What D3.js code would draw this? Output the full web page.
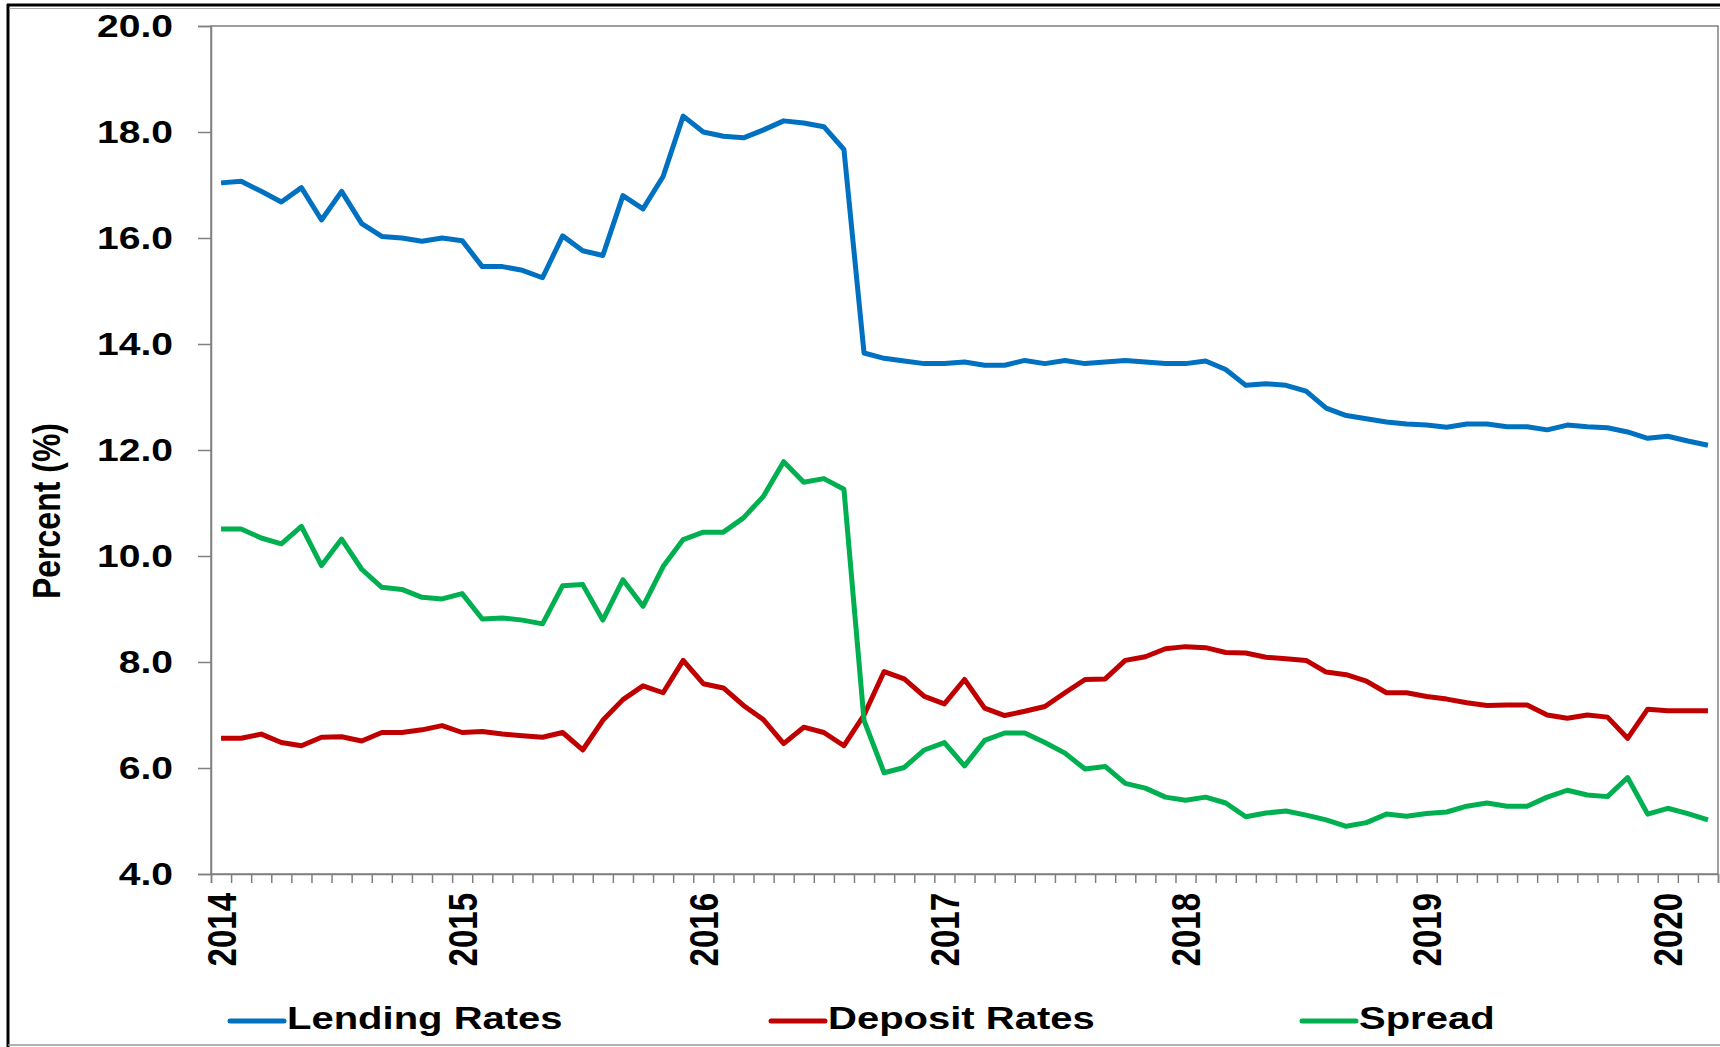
<!DOCTYPE html>
<html>
<head>
<meta charset="utf-8">
<script src="https://cdn.jsdelivr.net/npm/d3@7"></script>
<style>
  body { margin: 0; background: #fff; }
  svg { display: block; }
  text { font-family: "Liberation Sans", Arial, sans-serif; font-weight: bold; fill: #000; }
</style>
</head>
<body>
<svg id="chart"></svg>
<script>
// monthly data, Jan 2014 - Mar 2020
const years = ["2014", "2015", "2016", "2017", "2018", "2019", "2020"];

const lending = [
  17.04, 17.07, 16.88, 16.68, 16.95, 16.34, 16.88, 16.27, 16.03, 16.00,
  15.94, 16.00, 15.95, 15.46, 15.46, 15.39, 15.25, 16.04, 15.76, 15.67,
  16.80, 16.55, 17.16, 18.30, 18.00, 17.92, 17.89, 18.04, 18.21, 18.17,
  18.10, 17.67, 13.83, 13.73, 13.68, 13.63, 13.63, 13.66, 13.60, 13.60,
  13.69, 13.63, 13.69, 13.63, 13.66, 13.69, 13.66, 13.63, 13.63, 13.68,
  13.52, 13.22, 13.25, 13.22, 13.11, 12.79, 12.65, 12.59, 12.53, 12.49,
  12.47, 12.43, 12.49, 12.49, 12.44, 12.44, 12.38, 12.47, 12.44, 12.42,
  12.34, 12.22, 12.26, 12.17, 12.09
];

const deposit = [
  6.56, 6.56, 6.64, 6.48, 6.42, 6.58, 6.59, 6.51, 6.67, 6.67,
  6.72, 6.80, 6.67, 6.69, 6.64, 6.61, 6.58, 6.67, 6.34, 6.90,
  7.29, 7.55, 7.42, 8.03, 7.59, 7.51, 7.18, 6.91, 6.46, 6.77,
  6.67, 6.42, 7.00, 7.82, 7.68, 7.35, 7.21, 7.67, 7.13, 6.99,
  7.07, 7.16, 7.42, 7.67, 7.68, 8.03, 8.10, 8.25, 8.29, 8.27,
  8.18, 8.17, 8.09, 8.06, 8.03, 7.81, 7.76, 7.64, 7.42, 7.42,
  7.35, 7.30, 7.23, 7.18, 7.19, 7.19, 7.00, 6.94, 7.00, 6.96,
  6.56, 7.11, 7.08, 7.08, 7.08
];

const spread = [
  10.51, 10.51, 10.34, 10.23, 10.56, 9.82, 10.32, 9.75, 9.41, 9.37,
  9.22, 9.19, 9.29, 8.81, 8.83, 8.79, 8.72, 9.44, 9.46, 8.79,
  9.55, 9.05, 9.80, 10.31, 10.45, 10.45, 10.72, 11.13, 11.78, 11.39,
  11.46, 11.26, 6.90, 5.91, 6.01, 6.34, 6.48, 6.04, 6.52, 6.66,
  6.66, 6.48, 6.28, 5.98, 6.03, 5.71, 5.62, 5.45, 5.39, 5.45,
  5.34, 5.08, 5.15, 5.19, 5.11, 5.02, 4.90, 4.97, 5.13, 5.09,
  5.14, 5.17, 5.28, 5.34, 5.28, 5.28, 5.45, 5.58, 5.49, 5.46,
  5.82, 5.13, 5.24, 5.14, 5.02
];

const series = [
  { name: "Lending Rates", values: lending, color: "#0070C0", lx: 230 },
  { name: "Deposit Rates", values: deposit, color: "#C00000", lx: 771 },
  { name: "Spread", values: spread, color: "#00B050", lx: 1302 }
];

const width = 1720;
const height = 1047;
const S = 1.22; // the source picture is stretched sideways

const plotLeft = 211, plotRight = 1718, plotTop = 26, plotBottom = 874;
const n = lending.length;

const svg = d3.select("#chart")
  .attr("width", width)
  .attr("height", height);

// outer frame
svg.append("line").attr("x1", 8).attr("x2", 8).attr("y1", 4).attr("y2", height)
  .attr("stroke", "#000").attr("stroke-width", 3);
svg.append("line").attr("x1", 7).attr("x2", width).attr("y1", 5).attr("y2", 5)
  .attr("stroke", "#000").attr("stroke-width", 3);
svg.append("line").attr("x1", 9).attr("x2", width).attr("y1", 8.5).attr("y2", 8.5)
  .attr("stroke", "#aaa").attr("stroke-width", 1);
svg.append("line").attr("x1", 8).attr("x2", width).attr("y1", 1045).attr("y2", 1045)
  .attr("stroke", "#999").attr("stroke-width", 1.5);

const x = d3.scaleLinear().domain([0, n]).range([plotLeft, plotRight]);
const y = d3.scaleLinear().domain([4, 20]).range([plotBottom, plotTop]);

// plot area border
svg.append("rect")
  .attr("x", plotLeft).attr("y", plotTop)
  .attr("width", plotRight - plotLeft).attr("height", plotBottom - plotTop)
  .attr("fill", "none").attr("stroke", "#808080").attr("stroke-width", 1.5);

// y axis
const yAxis = svg.append("g")
  .attr("transform", `translate(${plotLeft},0)`)
  .call(d3.axisLeft(y).tickValues(d3.range(4, 20.1, 2)).tickSize(13).tickFormat(d3.format(".1f")));
yAxis.select(".domain").attr("stroke", "#808080").attr("stroke-width", 1.5);
yAxis.selectAll(".tick line").attr("stroke", "#808080").attr("stroke-width", 1.5);
yAxis.selectAll(".tick text")
  .attr("x", null).attr("dy", "0.36em")
  .attr("transform", `translate(-38,-1) scale(${S + 0.02},1)`)
  .attr("font-size", 31.5)
  .attr("font-family", null)
  .attr("fill", "#000");

// x axis: ticks between months
const xAxis = svg.append("g")
  .attr("transform", `translate(0,${plotBottom})`)
  .call(d3.axisBottom(x).tickValues(d3.range(0, n + 1)).tickSize(9).tickFormat(""));
xAxis.select(".domain").attr("stroke", "#808080").attr("stroke-width", 1.5);
xAxis.selectAll(".tick line").attr("stroke", "#808080").attr("stroke-width", 1.5);

svg.append("g").selectAll("text")
  .data(years)
  .join("text")
  .attr("transform", (d, i) => `translate(${x(i * 12 + 0.5)},${plotBottom + 19}) scale(${S},1) rotate(-90)`)
  .attr("text-anchor", "end")
  .attr("dy", "0.36em")
  .attr("font-size", 33)
  .text(d => d);

// y title
svg.append("text")
  .attr("transform", `translate(46,511) scale(${S},1) rotate(-90)`)
  .attr("text-anchor", "middle")
  .attr("dy", "0.36em")
  .attr("font-size", 32)
  .text("Percent (%)");

// lines
const line = d3.line()
  .x((d, i) => x(i + 0.5))
  .y(d => y(d));

svg.append("g").selectAll("path")
  .data(series)
  .join("path")
  .attr("d", d => line(d.values))
  .attr("fill", "none")
  .attr("stroke", d => d.color)
  .attr("stroke-width", 5)
  .attr("stroke-linejoin", "round");

// legend
const legend = svg.append("g").selectAll("g")
  .data(series)
  .join("g");

legend.append("line")
  .attr("x1", d => d.lx).attr("x2", d => d.lx + 54)
  .attr("y1", 1021).attr("y2", 1021)
  .attr("stroke", d => d.color)
  .attr("stroke-width", 5)
  .attr("stroke-linecap", "round");

legend.append("text")
  .attr("transform", d => `translate(${d.lx + 57},1029) scale(1.25,1)`)
  .attr("font-size", 32)
  .text(d => d.name);
</script>
</body>
</html>
